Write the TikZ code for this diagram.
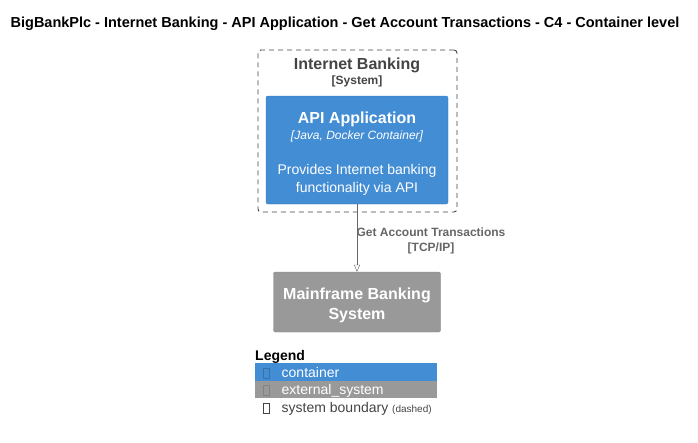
\documentclass[tikz,border=0pt]{standalone}
\usepackage{fontspec}
\setmainfont{Liberation Sans}
\usetikzlibrary{arrows.meta, positioning}

\definecolor{containerblue}{HTML}{438DD5}
\definecolor{extgray}{HTML}{999999}
\definecolor{boundgray}{HTML}{444444}
\definecolor{relgray}{HTML}{666666}

\tikzset{
	px/.style={x=1pt, y=-1pt},
	boxbase/.style={rounded corners=2pt, inner sep=0pt},
	containerbox/.style={boxbase, fill=containerblue, draw=containerblue!85!black, minimum width=182pt, minimum height=108pt},
	extbox/.style={boxbase, fill=extgray, draw=extgray!85!black, minimum width=167pt, minimum height=60pt},
	boundarybox/.style={draw=boundgray, line width=0.9pt, dash pattern=on 5pt off 4pt, rounded corners=3pt, inner sep=0pt, minimum width=199pt, minimum height=162pt},
	txt/.style={anchor=base, inner sep=0pt},
	legendrow/.style={anchor=north west, inner sep=0pt, minimum width=182pt, minimum height=17.5pt},
	glyph/.style={draw, inner sep=0pt, minimum width=6.5pt, minimum height=10pt},
}

\newcommand{\fsz}[1]{\fontsize{#1}{#1}\selectfont}

\begin{document}
\begin{tikzpicture}[px]
	\useasboundingbox (0,0) rectangle (698,442);

	% Title
	\node[txt] (title) at (345,27) {\fsz{14.5}\bfseries BigBankPlc - Internet Banking - API Application - Get Account Transactions - C4 - Container level};

	% System boundary
	\node[boundarybox] (boundary) at (357.5,131) {};
	\node[txt, text=boundgray] (bname) at (357,69) {\fsz{16}\bfseries Internet Banking};
	\node[txt, text=boundgray] (btype) at (357,84) {\fsz{12}\bfseries [System]};

	% Container
	\node[containerbox] (api) at (357,150) {};
	\node[txt, text=white] (apiname) at (357,123) {\fsz{16}\bfseries API Application};
	\node[txt, text=white] (apitech) at (357,139) {\fsz{12}\itshape [Java, Docker Container]};
	\node[txt, text=white] (apidescA) at (357,174) {\fsz{14}Provides Internet banking};
	\node[txt, text=white] (apidescB) at (357,192) {\fsz{14}functionality via API};

	% External system
	\node[extbox] (mainframe) at (357,302) {};
	\node[txt, text=white] (mfnameA) at (357,299) {\fsz{16}\bfseries Mainframe Banking};
	\node[txt, text=white] (mfnameB) at (357,319) {\fsz{16}\bfseries System};

	% Relation
	\draw[relgray, -{Triangle[open, length=7pt, width=6pt]}] (api.south) -- (mainframe.north);
	\node[txt, text=relgray] (rellabel) at (431,236.5) {\fsz{12}\bfseries Get Account Transactions};
	\node[txt, text=relgray] (reltech) at (431,251) {\fsz{12}\bfseries [TCP/IP]};

	% Legend
	\node[anchor=base west, inner sep=0pt] (legend) at (255,360) {\fsz{14}\bfseries Legend};
	\node[legendrow, fill=containerblue] (lcont) at (254.5,363) {};
	\node[legendrow, fill=extgray] (lext) at (254.5,380.5) {};
	\node[glyph, draw=containerblue!80!black] (gcont) at (266,373) {};
	\node[glyph, draw=extgray!85!black] (gext) at (266,390.5) {};
	\node[glyph, draw=boundgray] (gbound) at (266,408.5) {};
	\node[anchor=base west, inner sep=0pt, text=white] (tcont) at (281.5,377) {\fsz{14}container};
	\node[anchor=base west, inner sep=0pt, text=white] (text) at (281.5,394) {\fsz{14}external\_system};
	\node[anchor=base west, inner sep=0pt, text=boundgray] (tbound) at (281.5,412.5) {\fsz{14}system boundary \fsz{10}(dashed)};
\end{tikzpicture}
\end{document}
